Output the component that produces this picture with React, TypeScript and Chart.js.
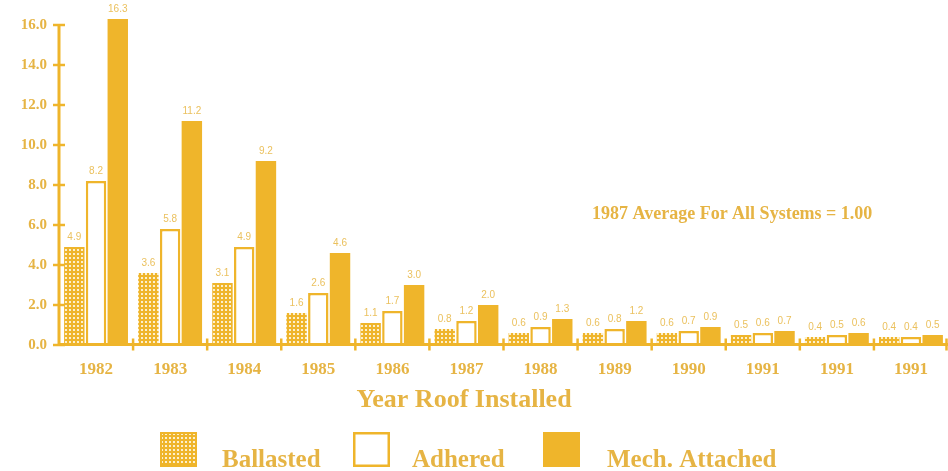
import React, { useEffect, useRef } from 'react';
import { Chart, registerables } from 'chart.js';

Chart.register(...registerables);

// ---- data ----
const categories = ['1982', '1983', '1984', '1985', '1986', '1987', '1988', '1989', '1990', '1991', '1991', '1991'];
const ballasted = [4.9, 3.6, 3.1, 1.6, 1.1, 0.8, 0.6, 0.6, 0.6, 0.5, 0.4, 0.4];
const adhered = [8.2, 5.8, 4.9, 2.6, 1.7, 1.2, 0.9, 0.8, 0.7, 0.6, 0.5, 0.4];
const mechAttached = [16.3, 11.2, 9.2, 4.6, 3.0, 2.0, 1.3, 1.2, 0.9, 0.7, 0.6, 0.5];
const seriesNames = ['Ballasted', 'Adhered', 'Mech. Attached'];
const yTickValues = [0, 2, 4, 6, 8, 10, 12, 14, 16];
const xTitle = 'Year Roof Installed';
const noteText = '1987 Average For All Systems = 1.00';

// ---- styles ----
const GOLD = '#EFB52B';
const TEXT = '#E6B444';
const LABEL = '#EBC15E';
const SERIF = '"Liberation Serif", "DejaVu Serif", serif';
const SANS = '"Liberation Sans", Arial, sans-serif';

function makePattern(): CanvasPattern {
  const c = document.createElement('canvas');
  c.width = 4;
  c.height = 4;
  const g = c.getContext('2d')!;
  g.fillStyle = GOLD;
  g.fillRect(0, 0, 4, 4);
  g.fillStyle = '#FDF0CC';
  g.fillRect(1, 1, 2, 2);
  return g.createPattern(c, 'repeat')!;
}

export default function App() {
  const ref = useRef<HTMLCanvasElement | null>(null);

  useEffect(() => {
    document.body.style.margin = '0';
    const canvas = ref.current!;
    const pattern = makePattern();

    const decor = {
      id: 'decor',
      afterDatasetsDraw(chart: any) {
        const ctx = chart.ctx as CanvasRenderingContext2D;
        const area = chart.chartArea;
        const ys = chart.scales.y;
        ctx.save();
        ctx.strokeStyle = GOLD;
        ctx.lineCap = 'butt';

        // axes lines
        const axisY = area.bottom - 0.5;
        const axisX = area.left;
        ctx.lineWidth = 3;
        ctx.beginPath();
        ctx.moveTo(axisX, axisY);
        ctx.lineTo(area.right, axisY);
        ctx.stroke();
        ctx.beginPath();
        ctx.moveTo(axisX, axisY + 1.5);
        ctx.lineTo(axisX, ys.getPixelForValue(yTickValues[yTickValues.length - 1]));
        ctx.stroke();

        // y tick crosses
        ctx.lineWidth = 2.5;
        yTickValues.forEach((v) => {
          const y = ys.getPixelForValue(v);
          ctx.beginPath();
          ctx.moveTo(axisX - 6, y);
          ctx.lineTo(axisX + 6, y);
          ctx.stroke();
        });

        // x tick marks at category boundaries
        const n = categories.length;
        const w = (area.right - area.left) / n;
        for (let i = 1; i <= n; i++) {
          const x = Math.min(area.left + i * w, area.right - 1.5);
          ctx.beginPath();
          ctx.moveTo(x, axisY - 6);
          ctx.lineTo(x, axisY + 6);
          ctx.stroke();
        }

        // value labels
        ctx.fillStyle = LABEL;
        ctx.font = `10px ${SANS}`;
        ctx.textAlign = 'center';
        ctx.textBaseline = 'bottom';
        chart.data.datasets.forEach((ds: any, di: number) => {
          const meta = chart.getDatasetMeta(di);
          meta.data.forEach((el: any, i: number) => {
            ctx.fillText(Number(ds.data[i]).toFixed(1), el.x, el.y - 5);
          });
        });

        // note
        ctx.fillStyle = TEXT;
        ctx.font = `bold 18px ${SERIF}`;
        ctx.textAlign = 'left';
        ctx.textBaseline = 'alphabetic';
        ctx.fillText(noteText, 592, 219);

        // x title
        ctx.font = `bold 26px ${SERIF}`;
        ctx.textAlign = 'center';
        ctx.fillText(xTitle, 464, 407);

        // legend
        const swatchX = [160, 353, 543];
        const textX = [222, 412, 607];
        const sy = 432;
        const sw = 37;
        const sh = 35;
        seriesNames.forEach((name, i) => {
          const x = swatchX[i];
          if (i === 0) {
            ctx.fillStyle = pattern;
            ctx.fillRect(x, sy, sw, sh);
            ctx.strokeStyle = GOLD;
            ctx.lineWidth = 2;
            ctx.strokeRect(x + 1, sy + 1, sw - 2, sh - 2);
          } else if (i === 1) {
            ctx.fillStyle = '#ffffff';
            ctx.fillRect(x, sy, sw, sh);
            ctx.strokeStyle = GOLD;
            ctx.lineWidth = 2.5;
            ctx.strokeRect(x + 1.25, sy + 1.25, sw - 2.5, sh - 2.5);
          } else {
            ctx.fillStyle = GOLD;
            ctx.fillRect(x, sy, sw, sh);
          }
          ctx.fillStyle = TEXT;
          ctx.font = `bold 25px ${SERIF}`;
          ctx.textAlign = 'left';
          ctx.fillText(name, textX[i], 467);
        });

        ctx.restore();
      },
    };

    const chart = new Chart(canvas, {
      type: 'bar',
      data: {
        labels: categories,
        datasets: [
          {
            label: seriesNames[0],
            data: ballasted,
            backgroundColor: pattern as any,
            borderColor: GOLD,
            borderWidth: 0,
            clip: false as any,
          },
          {
            label: seriesNames[1],
            data: adhered,
            backgroundColor: '#ffffff',
            borderColor: GOLD,
            borderWidth: 2.5,
            borderSkipped: 'bottom',
            clip: false as any,
          },
          {
            label: seriesNames[2],
            data: mechAttached,
            backgroundColor: GOLD,
            borderWidth: 0,
            clip: false as any,
          },
        ],
      },
      options: {
        responsive: false,
        animation: false,
        layout: { padding: { top: 25, left: 0, right: 0, bottom: 0 } },
        datasets: {
          bar: { categoryPercentage: 0.88, barPercentage: 0.94 },
        },
        plugins: {
          legend: { display: false },
          tooltip: { enabled: false },
          title: { display: false },
        },
        scales: {
          x: {
            grid: { display: false, drawTicks: false },
            border: { display: false },
            ticks: {
              color: TEXT,
              font: { family: SERIF, size: 17, weight: 'bold' },
              padding: 14,
              autoSkip: false,
              maxRotation: 0,
            },
            afterFit: (scale: any) => {
              scale.height = 126;
            },
          },
          y: {
            min: 0,
            max: 16,
            grid: { display: false, drawTicks: false },
            border: { display: false },
            ticks: {
              stepSize: 2,
              color: TEXT,
              font: { family: SERIF, size: 15, weight: 'bold' },
              padding: 12,
              callback: (v: any) => Number(v).toFixed(1),
            },
            afterFit: (scale: any) => {
              scale.width = 59;
            },
          },
        },
      },
      plugins: [decor],
    });

    return () => chart.destroy();
  }, []);

  return (
    <div style={{ width: 948, height: 471, position: 'relative', background: '#ffffff' }}>
      <canvas ref={ref} width={948} height={471} style={{ display: 'block' }} />
    </div>
  );
}
